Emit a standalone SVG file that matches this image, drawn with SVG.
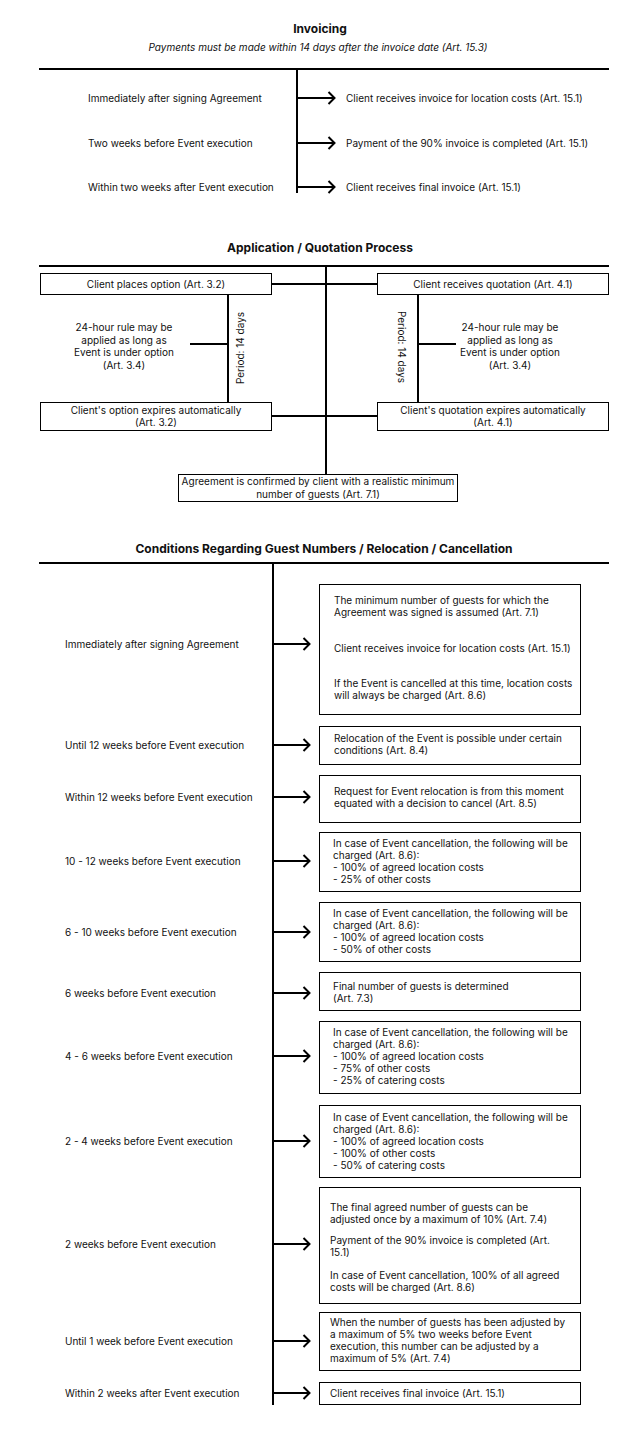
<svg xmlns="http://www.w3.org/2000/svg" width="643" height="1430" viewBox="0 0 643 1430">
<style>
text{font-family:Inter,"Liberation Sans",sans-serif;fill:#111;font-size:10px}
.t{font-weight:bold;font-size:12px;text-anchor:middle}
.s{font-style:italic;text-anchor:middle}
.c{text-anchor:middle}
.ln{stroke:#000;stroke-width:2;fill:none}
.bx{fill:#fff;stroke:#000;stroke-width:1}
.ar{stroke:#000;stroke-width:2;fill:none;marker-end:url(#arr)}
</style>
<defs>
<marker id="arr" viewBox="0 0 9 14" refX="8" refY="7" markerWidth="9" markerHeight="14" markerUnits="userSpaceOnUse" orient="auto">
<path d="M1.5,1 L7.5,7 L1.5,13" fill="none" stroke="#000" stroke-width="2"/>
</marker>
</defs>
<rect width="643" height="1430" fill="#fff"/>

<!-- Section 1: Invoicing -->
<g id="sec1-title">
<text class="t" x="320" y="33">Invoicing</text>
<text class="s" x="318" y="51">Payments must be made within 14 days after the invoice date (Art. 15.3)</text>
</g>
<g id="sec1-connectors">
<line class="ln" x1="39" y1="69" x2="609" y2="69"/>
<line class="ln" x1="297" y1="69" x2="297" y2="193"/>
<line class="ar" x1="297" y1="98" x2="335" y2="98"/>
<line class="ar" x1="297" y1="143" x2="335" y2="143"/>
<line class="ar" x1="297" y1="187" x2="335" y2="187"/>
</g>
<g id="inv-row1">
<text x="88" y="101.5">Immediately after signing Agreement</text>
<text x="346" y="101.5">Client receives invoice for location costs (Art. 15.1)</text>
</g>
<g id="inv-row2">
<text x="88" y="146.5">Two weeks before Event execution</text>
<text x="346" y="146.5">Payment of the 90% invoice is completed (Art. 15.1)</text>
</g>
<g id="inv-row3">
<text x="88" y="190.5">Within two weeks after Event execution</text>
<text x="346" y="190.5">Client receives final invoice (Art. 15.1)</text>
</g>

<!-- Section 2: Application / Quotation -->
<g id="sec2-title">
<text class="t" x="320" y="252">Application / Quotation Process</text>
</g>
<g id="sec2-connectors">
<line class="ln" x1="39" y1="266" x2="609" y2="266"/>
<line class="ln" x1="326" y1="266" x2="326" y2="474"/>
<line class="ln" x1="272" y1="284" x2="377" y2="284"/>
<line class="ln" x1="272" y1="416" x2="377" y2="416"/>
<line class="ln" x1="228" y1="295" x2="228" y2="402"/>
<line class="ln" x1="190" y1="344" x2="228" y2="344"/>
<line class="ln" x1="418" y1="295" x2="418" y2="402"/>
<line class="ln" x1="418" y1="344" x2="456" y2="344"/>
</g>
<g id="opt-place">
<rect class="bx" x="40.5" y="273.5" width="231" height="21"/>
<text class="c" x="156" y="287.5">Client places option (Art. 3.2)</text>
</g>
<g id="quote-receive">
<rect class="bx" x="377.5" y="273.5" width="231" height="21"/>
<text class="c" x="493" y="287.5">Client receives quotation (Art. 4.1)</text>
</g>
<g id="opt-rule">
<text class="c" x="124" y="331">24-hour rule may be</text>
<text class="c" x="124" y="343.5">applied as long as</text>
<text class="c" x="124" y="356">Event is under option</text>
<text class="c" x="124" y="368.5">(Art. 3.4)</text>
</g>
<g id="opt-period">
<text class="c" transform="translate(243.5,348) rotate(-90)">Period: 14 days</text>
</g>
<g id="quote-period">
<text class="c" transform="translate(397.5,347) rotate(90)">Period: 14 days</text>
</g>
<g id="quote-rule">
<text class="c" x="510" y="331">24-hour rule may be</text>
<text class="c" x="510" y="343.5">applied as long as</text>
<text class="c" x="510" y="356">Event is under option</text>
<text class="c" x="510" y="368.5">(Art. 3.4)</text>
</g>
<g id="opt-expire">
<rect class="bx" x="40.5" y="402.5" width="231" height="28"/>
<text class="c" x="156" y="413.5">Client's option expires automatically</text>
<text class="c" x="156" y="426">(Art. 3.2)</text>
</g>
<g id="quote-expire">
<rect class="bx" x="377.5" y="402.5" width="231" height="28"/>
<text class="c" x="493" y="413.5">Client's quotation expires automatically</text>
<text class="c" x="493" y="426">(Art. 4.1)</text>
</g>
<g id="agreement">
<rect class="bx" x="178.5" y="474.5" width="279" height="27"/>
<text class="c" x="318" y="485">Agreement is confirmed by client with a realistic minimum</text>
<text class="c" x="318" y="497.5">number of guests (Art. 7.1)</text>
</g>

<!-- Section 3: Conditions -->
<g id="sec3-title">
<text class="t" x="324" y="553">Conditions Regarding Guest Numbers / Relocation / Cancellation</text>
</g>
<g id="sec3-connectors">
<line class="ln" x1="39" y1="563" x2="609" y2="563"/>
<line class="ln" x1="273" y1="563" x2="273" y2="1405"/>
<line class="ar" x1="273" y1="644" x2="310" y2="644"/>
<line class="ar" x1="273" y1="745" x2="310" y2="745"/>
<line class="ar" x1="273" y1="797" x2="310" y2="797"/>
<line class="ar" x1="273" y1="861" x2="310" y2="861"/>
<line class="ar" x1="273" y1="932" x2="310" y2="932"/>
<line class="ar" x1="273" y1="993" x2="310" y2="993"/>
<line class="ar" x1="273" y1="1056" x2="310" y2="1056"/>
<line class="ar" x1="273" y1="1141" x2="310" y2="1141"/>
<line class="ar" x1="273" y1="1244" x2="310" y2="1244"/>
<line class="ar" x1="273" y1="1341" x2="310" y2="1341"/>
<line class="ar" x1="273" y1="1393" x2="310" y2="1393"/>
</g>
<g id="c1">
<text x="65" y="647.5">Immediately after signing Agreement</text>
<rect class="bx" x="319.5" y="584.5" width="261" height="130"/>
<text x="334" y="603.5">The minimum number of guests for which the</text>
<text x="334" y="616">Agreement was signed is assumed (Art. 7.1)</text>
<text x="334" y="651.5">Client receives invoice for location costs (Art. 15.1)</text>
<text x="334" y="686.5">If the Event is cancelled at this time, location costs</text>
<text x="334" y="699">will always be charged (Art. 8.6)</text>
</g>
<g id="c2">
<text x="65" y="748.5">Until 12 weeks before Event execution</text>
<rect class="bx" x="319.5" y="726.5" width="261" height="38"/>
<text x="334" y="741.5">Relocation of the Event is possible under certain</text>
<text x="334" y="754">conditions (Art. 8.4)</text>
</g>
<g id="c3">
<text x="65" y="800.5">Within 12 weeks before Event execution</text>
<rect class="bx" x="319.5" y="775.5" width="261" height="47"/>
<text x="334" y="794.5">Request for Event relocation is from this moment</text>
<text x="334" y="807">equated with a decision to cancel (Art. 8.5)</text>
</g>
<g id="c4">
<text x="65" y="864.5">10 - 12 weeks before Event execution</text>
<rect class="bx" x="319.5" y="832.5" width="261" height="59"/>
<text x="333" y="846.5">In case of Event cancellation, the following will be</text>
<text x="333" y="858.5">charged (Art. 8.6):</text>
<text x="333" y="870.5">- 100% of agreed location costs</text>
<text x="333" y="882.5">- 25% of other costs</text>
</g>
<g id="c5">
<text x="65" y="935.5">6 - 10 weeks before Event execution</text>
<rect class="bx" x="319.5" y="902.5" width="261" height="59"/>
<text x="333" y="916.5">In case of Event cancellation, the following will be</text>
<text x="333" y="928.5">charged (Art. 8.6):</text>
<text x="333" y="940.5">- 100% of agreed location costs</text>
<text x="333" y="952.5">- 50% of other costs</text>
</g>
<g id="c6">
<text x="65" y="996.5">6 weeks before Event execution</text>
<rect class="bx" x="319.5" y="972.5" width="261" height="38"/>
<text x="333" y="989.5">Final number of guests is determined</text>
<text x="333" y="1001.5">(Art. 7.3)</text>
</g>
<g id="c7">
<text x="65" y="1059.5">4 - 6 weeks before Event execution</text>
<rect class="bx" x="319.5" y="1021.5" width="261" height="72"/>
<text x="333" y="1035.5">In case of Event cancellation, the following will be</text>
<text x="333" y="1047.5">charged (Art. 8.6):</text>
<text x="333" y="1059.5">- 100% of agreed location costs</text>
<text x="333" y="1071.5">- 75% of other costs</text>
<text x="333" y="1083.5">- 25% of catering costs</text>
</g>
<g id="c8">
<text x="65" y="1144.5">2 - 4 weeks before Event execution</text>
<rect class="bx" x="319.5" y="1105.5" width="261" height="72"/>
<text x="333" y="1120.5">In case of Event cancellation, the following will be</text>
<text x="333" y="1132.5">charged (Art. 8.6):</text>
<text x="333" y="1144.5">- 100% of agreed location costs</text>
<text x="333" y="1156.5">- 100% of other costs</text>
<text x="333" y="1168.5">- 50% of catering costs</text>
</g>
<g id="c9">
<text x="65" y="1247.5">2 weeks before Event execution</text>
<rect class="bx" x="319.5" y="1187.5" width="261" height="116"/>
<text x="330" y="1210.5">The final agreed number of guests can be</text>
<text x="330" y="1223">adjusted once by a maximum of 10% (Art. 7.4)</text>
<text x="330" y="1243.5">Payment of the 90% invoice is completed (Art.</text>
<text x="330" y="1256">15.1)</text>
<text x="330" y="1278.5">In case of Event cancellation, 100% of all agreed</text>
<text x="330" y="1291">costs will be charged (Art. 8.6)</text>
</g>
<g id="c10">
<text x="65" y="1344.5">Until 1 week before Event execution</text>
<rect class="bx" x="319.5" y="1312.5" width="261" height="58"/>
<text x="330" y="1325.5">When the number of guests has been adjusted by</text>
<text x="330" y="1337.5">a maximum of 5% two weeks before Event</text>
<text x="330" y="1349.5">execution, this number can be adjusted by a</text>
<text x="330" y="1361.5">maximum of 5% (Art. 7.4)</text>
</g>
<g id="c11">
<text x="65" y="1396.5">Within 2 weeks after Event execution</text>
<rect class="bx" x="319.5" y="1382.5" width="261" height="22"/>
<text x="330" y="1396.5">Client receives final invoice (Art. 15.1)</text>
</g>
</svg>
